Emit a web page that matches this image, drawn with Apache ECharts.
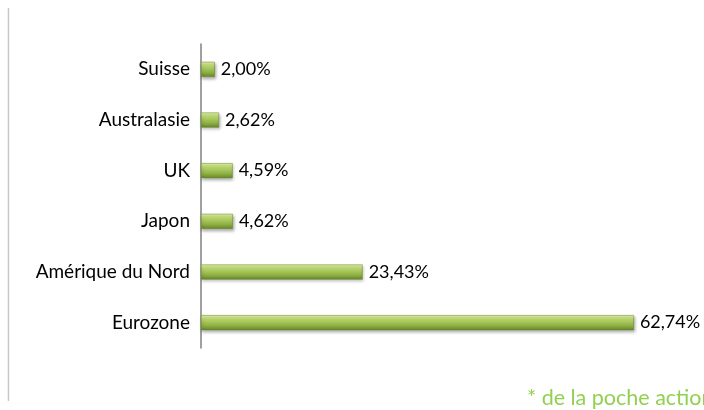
<!DOCTYPE html>
<html>
<head>
<meta charset="utf-8">
<script src="https://cdn.jsdelivr.net/npm/echarts@6/dist/echarts.min.js"></script>
<style>
  html, body { margin: 0; padding: 0; background: #fff; }
  #chart { width: 704px; height: 410px; }
</style>
</head>
<body>
<div id="chart"></div>
<script>
var regions = ['Eurozone', 'Amérique du Nord', 'Japon', 'UK', 'Australasie', 'Suisse'];
var weights = [62.74, 23.43, 4.62, 4.59, 2.62, 2.00];
var footnote = '* de la poche actior';

var myChart = echarts.init(document.getElementById('chart'));

// barre verte avec dégradé vertical
var barColor = new echarts.graphic.LinearGradient(0, 0, 0, 1, [
    { offset: 0, color: '#e2f2a6' },
    { offset: 0.3, color: '#b5d36a' },
    { offset: 0.7, color: '#8fb043' },
    { offset: 1, color: '#66852a' }
]);

var option = {
    backgroundColor: '#fff',
    animation: false,
    grid: { left: 201, top: 44, width: 483, height: 304 },
    xAxis: {
        type: 'value',
        min: 0,
        max: 70,
        show: false
    },
    yAxis: {
        type: 'category',
        data: regions,
        axisLine: { show: true, lineStyle: { color: '#808080', width: 1.5 } },
        axisTick: { show: false },
        axisLabel: {
            margin: 11,
            color: '#000',
            fontSize: 19,
            fontFamily: 'Lato'
        }
    },
    series: [{
        type: 'bar',
        data: weights,
        barWidth: 15,
        itemStyle: {
            color: barColor,
            borderColor: '#66852a',
            borderWidth: 0.5,
            shadowColor: 'rgba(0,0,0,0.3)',
            shadowBlur: 3,
            shadowOffsetX: 1,
            shadowOffsetY: 2
        },
        label: {
            show: true,
            position: 'right',
            distance: 6,
            color: '#000',
            fontSize: 18,
            fontFamily: 'Lato',
            formatter: function (p) {
                return p.value.toFixed(2).replace('.', ',') + '%';
            }
        }
    }],
    graphic: [
        {
            type: 'line',
            shape: { x1: 8.5, y1: 8, x2: 8.5, y2: 401 },
            style: { stroke: '#c8c8c8', lineWidth: 1.5 }
        },
        {
            type: 'text',
            left: 527,
            top: 387,
            style: {
                text: footnote,
                fill: '#92d050',
                fontSize: 21.5,
                fontFamily: 'Lato'
            }
        }
    ]
};
myChart.setOption(option);
</script>
</body>
</html>
